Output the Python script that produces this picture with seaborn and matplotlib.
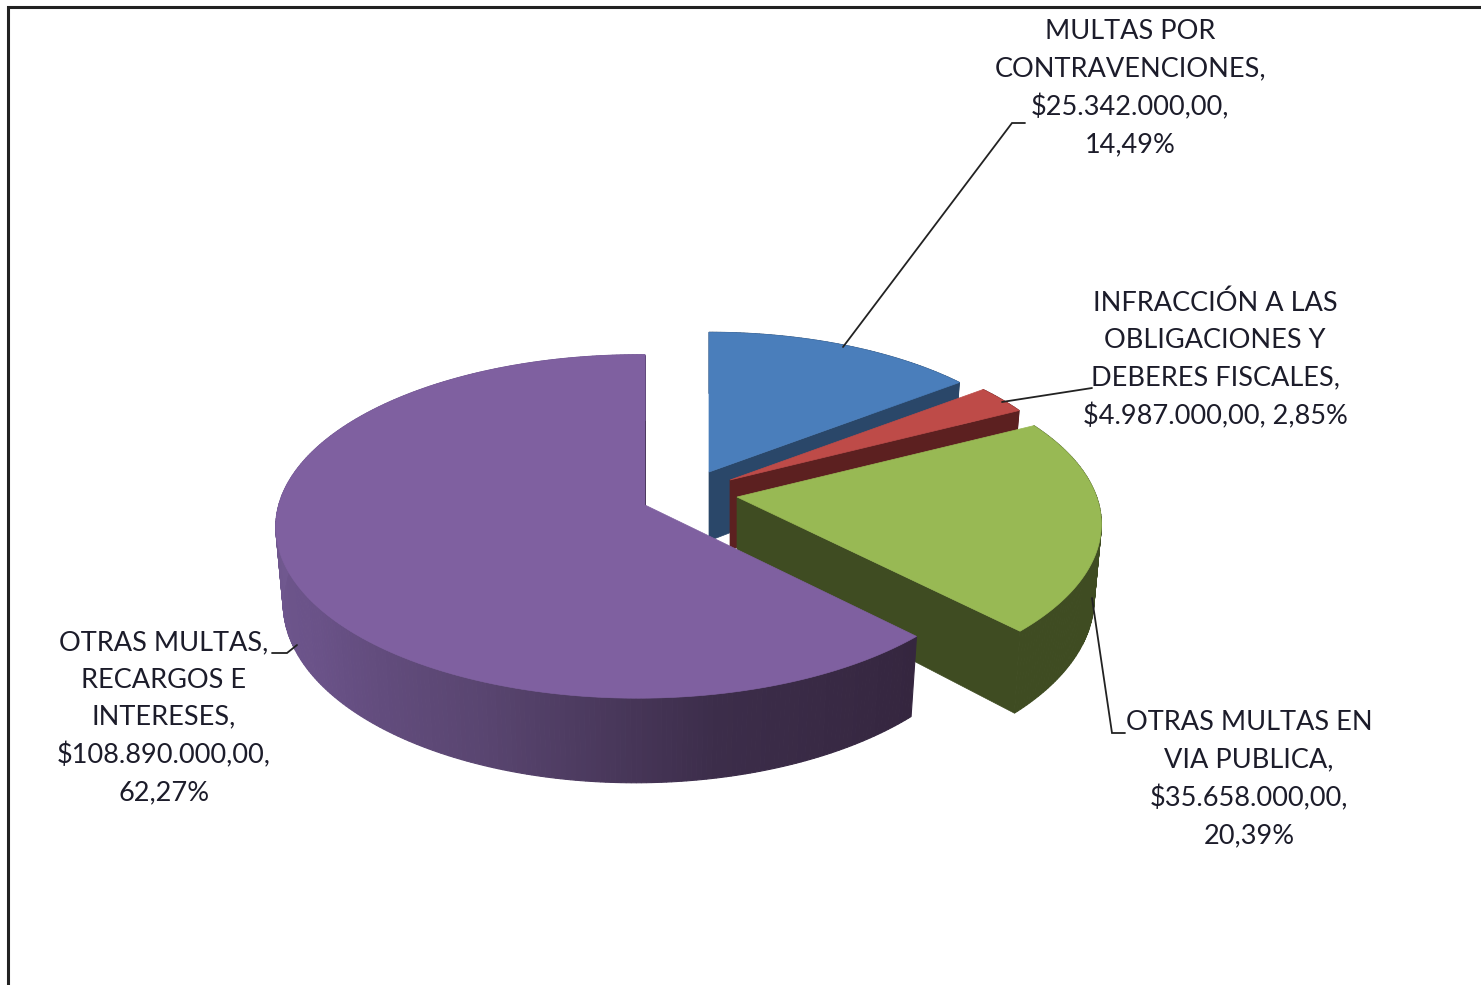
import numpy as np
import matplotlib
matplotlib.use("Agg")
import matplotlib.pyplot as plt
from matplotlib.patches import Polygon
import seaborn as sns

# data
names = ["MULTAS POR\nCONTRAVENCIONES", "INFRACCIÓN A LAS\nOBLIGACIONES Y\nDEBERES FISCALES",
         "OTRAS MULTAS EN\nVIA PUBLICA", "OTRAS MULTAS,\nRECARGOS E\nINTERESES"]
values = [25342000, 4987000, 35658000, 108890000]
money_sep = ["\n", " ", "\n", "\n"]

# colours
top_colors = ["#4A7EBB", "#BE4B48", "#98B954", "#7F60A0"]
cut_colors = ["#2A4769", "#5C2020", "#3F4C22", "#35263F"]
wall_ramps = [["#2A4769", "#2A4769"], ["#5C2020", "#5C2020"], ["#3F4C22", "#3F4C22"],
              ["#35263F", "#3C2D4A", "#594570", "#6A5288", "#70588F"]]

# layout, in pixels of the picture
apex_x = [709, 730, 737, 645]
apex_y = [472, 480, 497, 505]
slice_scale = [0.93, 0.94, 0.98, 1.0]
slice_tilt = [0.125, 0.125, 0.16, 0.125]
slice_side = [0.0, 0.0, 0.0, 0.018]
slice_width = [1.0, 1.0, 1.0, 0.98]
label_x = [1130, 1215, 1249, 164]
label_y = [88, 360, 779, 718]
leaders = [([1025, 1012, 843], [123, 123, 347]),
           ([1092, 1002], [388, 402]),
           ([1125, 1112, 1092], [733, 733, 598]),
           ([272, 287, 297], [653, 653, 645])]
RX, RY, DEPTH, SHRINK = 367, 169, 74, 0.98


def rim(theta, i):
    # point of the tilted disc seen in perspective, theta clockwise from 12 o'clock
    u, v = np.sin(theta), np.cos(theta)
    s = slice_scale[i] / (1 + slice_tilt[i] * v + slice_side[i] * u)
    return apex_x[i] + RX * slice_width[i] * u * s, apex_y[i] - RY * v * s, DEPTH * s


def lower(x, y, d, ax0):
    return ax0 + (x - ax0) * SHRINK, y + d


def money(v):
    return "$" + f"{v:,.2f}".replace(",", "#").replace(".", ",").replace("#", ".")


def pct(v, total):
    return f"{100 * v / total:.2f}".replace(".", ",") + "%"


sns.set_theme(style="white")
plt.rcParams["font.family"] = ["Lato", "DejaVu Sans"]

fig, ax = plt.subplots(figsize=(14.81, 9.85), dpi=100)
fig.subplots_adjust(0, 0, 1, 1)
ax.set_xlim(0, 1481)
ax.set_ylim(985, 0)
ax.axis("off")

total = sum(values)
edges = np.concatenate([[0], np.cumsum(values)]) / total * 2 * np.pi

for i in range(len(values)):
    t0, t1 = edges[i], edges[i + 1]
    ax0, ay0, c = apex_x[i], apex_y[i], slice_scale[i]
    thetas = np.linspace(t0, t1, max(int((t1 - t0) * 80), 8))
    xs, ys, ds = rim(thetas, i)
    bx, by = lower(xs, ys, ds, ax0)

    # cut face on the clockwise end of the slice
    ax.add_patch(Polygon([(ax0, ay0), (xs[-1], ys[-1]), (bx[-1], by[-1]), (ax0, ay0 + DEPTH * c)],
                         fc=cut_colors[i], ec=cut_colors[i], lw=0.5))

    # outer wall, strip by strip; the shading only runs over the part that can be seen
    n_seen = max(int((thetas <= 1.5 * np.pi).sum()), 2)
    ramp = sns.blend_palette(wall_ramps[i], n_seen)
    for j in range(len(thetas) - 1):
        col = ramp[min(j, n_seen - 1)]
        ax.add_patch(Polygon([(xs[j], ys[j]), (xs[j + 1], ys[j + 1]), (bx[j + 1], by[j + 1]), (bx[j], by[j])],
                             fc=col, ec=col, lw=0.8))

    ax.add_patch(Polygon(np.column_stack([np.r_[ax0, xs], np.r_[ay0, ys]]),
                         fc=top_colors[i], ec=top_colors[i], lw=0.5))

# leader lines and labels
for (lx, ly) in leaders:
    ax.plot(lx, ly, color="#222222", lw=1.3, solid_joinstyle="miter")

for i, v in enumerate(values):
    label = names[i] + ",\n" + money(v) + "," + money_sep[i] + pct(v, total)
    ax.text(label_x[i], label_y[i], label, ha="center", va="center", fontsize=19.5,
            color="#1c1c2a", linespacing=1.6)

# chart frame, runs off the picture on the right and at the bottom
ax.plot([8, 8, 1481], [985, 7, 7], color="#222222", lw=2.2, solid_joinstyle="miter", clip_on=False)

fig.savefig("out.png", dpi=100, facecolor="white")
